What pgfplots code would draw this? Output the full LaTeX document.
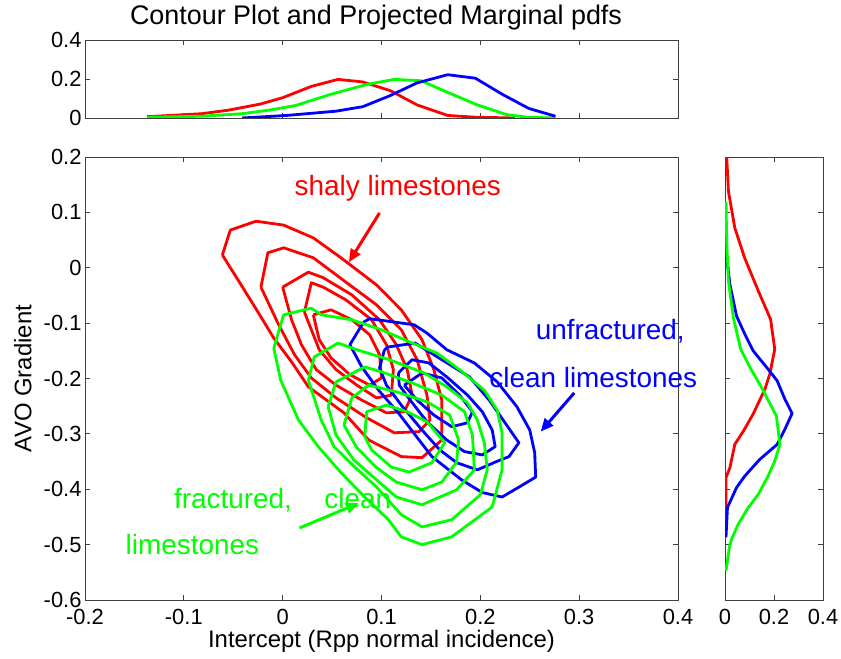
\documentclass[border=0pt]{standalone}
\usepackage{fontspec}
\setmainfont{Liberation Sans}
\usepackage{pgfplots}
\pgfplotsset{compat=1.18}
\usetikzlibrary{arrows.meta}
\definecolor{mred}{RGB}{255,0,0}
\definecolor{mblue}{RGB}{0,0,255}
\definecolor{mgreen}{RGB}{0,255,0}
\pgfplotsset{
  mystyle/.style={
    scale only axis,
    axis line style={black!75, line width=0.8bp},
    tick style={black!75, line width=0.8bp},
    tick align=inside,
    major tick length=5bp,
    ticklabel style={font=\fontsize{22}{22}\selectfont},
    xticklabel style={yshift=-6bp},
    label style={font=\fontsize{24}{24}\selectfont},
    every axis plot/.append style={line width=2.8bp, line join=round},
  }
}
\begin{document}
\begin{tikzpicture}
\path[use as bounding box] (0,0) rectangle (841bp,659bp);
% ---------------- main contour axis
\begin{axis}[mystyle, at={(85bp,59bp)}, anchor=south west,
  width=593bp, height=443bp,
  xmin=-0.2, xmax=0.4, ymin=-0.6, ymax=0.2,
  xtick={-0.2,-0.1,0,0.1,0.2,0.3,0.4},
  xticklabels={-0.2,-0.1,0,0.1,0.2,0.3,0.4},
  ytick={-0.6,-0.5,-0.4,-0.3,-0.2,-0.1,0,0.1,0.2},
  yticklabels={-0.6,-0.5,-0.4,-0.3,-0.2,-0.1,0,0.1,0.2},
  clip=false,
  xlabel={Intercept (Rpp normal incidence)},
  ylabel={AVO Gradient},
  xlabel style={at={(axis description cs:0.5,-0.093)}, anchor=center},
  ylabel style={at={(axis description cs:-0.105,0.5)}, anchor=center},
]
% red contours (shaly limestones)
\addplot[mred] coordinates {(-0.061,0.023)(-0.053,0.068)(-0.027,0.084)(0.001,0.077)(0.031,0.054)(0.059,0.018)(0.095,-0.031)(0.120,-0.076)(0.141,-0.130)(0.153,-0.184)(0.161,-0.239)(0.161,-0.311)(0.141,-0.343)(0.120,-0.341)(0.087,-0.311)(0.062,-0.262)(0.026,-0.215)(0.009,-0.170)(-0.009,-0.127)(-0.025,-0.080)(-0.042,-0.031)(-0.061,0.023)};
\addplot[mred] coordinates {(-0.022,-0.035)(-0.015,0.027)(0.001,0.036)(0.031,0.018)(0.064,-0.026)(0.095,-0.067)(0.120,-0.112)(0.136,-0.166)(0.146,-0.230)(0.149,-0.275)(0.138,-0.296)(0.113,-0.298)(0.085,-0.271)(0.054,-0.235)(0.029,-0.199)(0.012,-0.157)(-0.004,-0.103)(-0.022,-0.035)};
\addplot[mred] coordinates {(0.000,-0.035)(0.026,-0.008)(0.041,-0.018)(0.070,-0.049)(0.098,-0.094)(0.115,-0.139)(0.126,-0.184)(0.131,-0.230)(0.123,-0.260)(0.105,-0.262)(0.080,-0.239)(0.054,-0.212)(0.034,-0.184)(0.019,-0.139)(0.009,-0.094)(0.000,-0.035)};
\addplot[mred] coordinates {(0.022,-0.080)(0.029,-0.027)(0.041,-0.035)(0.064,-0.058)(0.090,-0.094)(0.105,-0.139)(0.112,-0.184)(0.110,-0.230)(0.095,-0.235)(0.075,-0.212)(0.054,-0.184)(0.037,-0.148)(0.022,-0.080)};
\addplot[mred] coordinates {(0.031,-0.085)(0.049,-0.076)(0.070,-0.094)(0.088,-0.121)(0.098,-0.157)(0.100,-0.199)(0.088,-0.212)(0.068,-0.193)(0.049,-0.163)(0.037,-0.130)(0.031,-0.085)};
% blue contours (unfractured, clean limestones)
\addplot[mblue] coordinates {(0.082,-0.098)(0.088,-0.092)(0.133,-0.103)(0.146,-0.118)(0.166,-0.148)(0.194,-0.172)(0.217,-0.206)(0.237,-0.251)(0.250,-0.293)(0.255,-0.334)(0.256,-0.378)(0.243,-0.392)(0.222,-0.414)(0.202,-0.406)(0.181,-0.383)(0.151,-0.341)(0.138,-0.311)(0.117,-0.262)(0.097,-0.221)(0.080,-0.179)(0.068,-0.139)(0.082,-0.098)};
\addplot[mblue] coordinates {(0.103,-0.148)(0.107,-0.143)(0.134,-0.136)(0.161,-0.166)(0.189,-0.197)(0.209,-0.239)(0.225,-0.280)(0.239,-0.316)(0.229,-0.341)(0.215,-0.351)(0.197,-0.365)(0.176,-0.352)(0.159,-0.329)(0.141,-0.293)(0.120,-0.248)(0.105,-0.212)(0.098,-0.181)(0.103,-0.148)};
\addplot[mblue] coordinates {(0.117,-0.190)(0.131,-0.166)(0.148,-0.172)(0.166,-0.197)(0.187,-0.230)(0.202,-0.260)(0.212,-0.293)(0.215,-0.323)(0.202,-0.338)(0.184,-0.332)(0.166,-0.311)(0.146,-0.278)(0.129,-0.239)(0.118,-0.212)(0.117,-0.190)};
\addplot[mblue] coordinates {(0.123,-0.212)(0.141,-0.190)(0.161,-0.199)(0.179,-0.230)(0.192,-0.260)(0.187,-0.280)(0.171,-0.287)(0.153,-0.266)(0.136,-0.239)(0.123,-0.212)};
% green contours (fractured, clean limestones)
\addplot[mgreen] coordinates {(-0.009,-0.145)(0.001,-0.085)(0.029,-0.073)(0.039,-0.085)(0.070,-0.094)(0.100,-0.112)(0.131,-0.136)(0.156,-0.154)(0.179,-0.184)(0.204,-0.221)(0.217,-0.257)(0.222,-0.298)(0.222,-0.365)(0.212,-0.432)(0.171,-0.486)(0.141,-0.500)(0.120,-0.486)(0.107,-0.455)(0.083,-0.414)(0.059,-0.370)(0.036,-0.323)(0.016,-0.275)(-0.002,-0.203)(-0.009,-0.145)};
\addplot[mgreen] coordinates {(0.026,-0.203)(0.032,-0.161)(0.056,-0.136)(0.075,-0.148)(0.108,-0.166)(0.143,-0.190)(0.166,-0.215)(0.187,-0.244)(0.197,-0.275)(0.204,-0.316)(0.207,-0.365)(0.200,-0.410)(0.171,-0.455)(0.141,-0.468)(0.120,-0.446)(0.095,-0.396)(0.073,-0.360)(0.052,-0.323)(0.039,-0.275)(0.026,-0.203)};
\addplot[mgreen] coordinates {(0.046,-0.251)(0.054,-0.206)(0.083,-0.179)(0.100,-0.188)(0.131,-0.208)(0.161,-0.230)(0.184,-0.260)(0.192,-0.302)(0.194,-0.365)(0.176,-0.401)(0.141,-0.428)(0.115,-0.414)(0.095,-0.383)(0.072,-0.347)(0.054,-0.302)(0.046,-0.251)};
\addplot[mgreen] coordinates {(0.062,-0.284)(0.070,-0.235)(0.087,-0.212)(0.115,-0.224)(0.146,-0.242)(0.169,-0.266)(0.178,-0.311)(0.176,-0.351)(0.161,-0.387)(0.141,-0.401)(0.115,-0.387)(0.095,-0.361)(0.075,-0.325)(0.062,-0.284)};
\addplot[mgreen] coordinates {(0.083,-0.305)(0.085,-0.260)(0.105,-0.248)(0.126,-0.260)(0.146,-0.278)(0.164,-0.316)(0.151,-0.352)(0.128,-0.369)(0.110,-0.360)(0.090,-0.329)(0.083,-0.305)};
% annotations
\draw[mred, line width=3bp, -{Triangle[length=13bp,width=11bp]}] (axis cs:0.098,0.099) -- (axis cs:0.067,0.010);
\draw[mblue, line width=3bp, -{Triangle[length=13bp,width=11bp]}] (axis cs:0.295,-0.226) -- (axis cs:0.261,-0.296);
\draw[mgreen, line width=3bp, -{Triangle[length=13bp,width=11bp]}] (axis cs:0.017,-0.470) -- (axis cs:0.077,-0.425);
\node[mred, anchor=base west, inner sep=0, font=\fontsize{28}{28}\selectfont] at (axis cs:0.012,0.131) {shaly limestones};
\node[mblue, anchor=base west, inner sep=0, font=\fontsize{28}{28}\selectfont] at (axis cs:0.256,-0.130) {unfractured,};
\node[mblue, anchor=base west, inner sep=0, font=\fontsize{28}{28}\selectfont] at (axis cs:0.209,-0.217) {clean limestones};
\node[mgreen, anchor=base west, inner sep=0, font=\fontsize{28}{28}\selectfont] at (axis cs:-0.110,-0.434) {fractured,};
\node[mgreen, anchor=base west, inner sep=0, font=\fontsize{28}{28}\selectfont] at (axis cs:0.042,-0.434) {clean};
\node[mgreen, anchor=base west, inner sep=0, font=\fontsize{28}{28}\selectfont] at (axis cs:-0.159,-0.518) {limestones};
\end{axis}
% ---------------- top marginal axis
\begin{axis}[mystyle, at={(85bp,541bp)}, anchor=south west,
  width=593bp, height=78bp,
  xmin=-0.2, xmax=0.4, ymin=0, ymax=0.4,
  xtick={-0.2,-0.1,0,0.1,0.2,0.3,0.4}, xticklabels={},
  ytick={0,0.2,0.4}, yticklabels={0,0.2,0.4},
]
\addplot[mred] coordinates {(-0.137,0.007)(-0.114,0.013)(-0.082,0.022)(-0.055,0.040)(-0.023,0.071)(0.000,0.104)(0.029,0.162)(0.056,0.198)(0.081,0.185)(0.109,0.140)(0.136,0.067)(0.167,0.013)(0.195,0.004)(0.235,0.000)};
\addplot[mgreen] coordinates {(-0.137,0.004)(-0.082,0.009)(-0.041,0.022)(-0.014,0.040)(0.013,0.064)(0.049,0.122)(0.086,0.173)(0.113,0.198)(0.140,0.191)(0.163,0.140)(0.197,0.067)(0.226,0.018)(0.247,0.004)(0.276,0.000)};
\addplot[mblue] coordinates {(-0.041,0.000)(0.004,0.013)(0.054,0.035)(0.081,0.058)(0.108,0.113)(0.136,0.180)(0.167,0.222)(0.195,0.204)(0.222,0.122)(0.249,0.049)(0.276,0.009)};
\end{axis}
% ---------------- right marginal axis
\begin{axis}[mystyle, at={(725bp,59bp)}, anchor=south west,
  width=98bp, height=443bp,
  xmin=0, xmax=0.4, ymin=-0.6, ymax=0.2,
  xtick={0,0.2,0.4}, xticklabels={0,0.2,0.4},
  ytick={-0.6,-0.5,-0.4,-0.3,-0.2,-0.1,0,0.1,0.2}, yticklabels={},
]
\addplot[mred] coordinates {(0.007,0.200)(0.014,0.138)(0.040,0.072)(0.080,0.018)(0.136,-0.042)(0.186,-0.093)(0.203,-0.147)(0.183,-0.192)(0.163,-0.219)(0.115,-0.264)(0.075,-0.295)(0.040,-0.319)(0.020,-0.361)(0.004,-0.379)(0.004,-0.433)};
\addplot[mblue] coordinates {(0.007,0.018)(0.020,-0.030)(0.047,-0.087)(0.081,-0.120)(0.115,-0.150)(0.170,-0.180)(0.213,-0.204)(0.244,-0.237)(0.274,-0.263)(0.244,-0.292)(0.213,-0.319)(0.142,-0.346)(0.081,-0.376)(0.047,-0.397)(0.010,-0.433)(0.004,-0.487)};
\addplot[mgreen] coordinates {(0.004,0.120)(0.007,0.048)(0.014,-0.024)(0.034,-0.090)(0.064,-0.147)(0.102,-0.180)(0.149,-0.216)(0.210,-0.268)(0.224,-0.319)(0.203,-0.349)(0.176,-0.376)(0.136,-0.409)(0.095,-0.433)(0.054,-0.463)(0.027,-0.490)(0.018,-0.505)(0.004,-0.547)};
\end{axis}
\node[anchor=base, font=\fontsize{27}{27}\selectfont] at (376bp,634bp) {Contour Plot and Projected Marginal pdfs};
\end{tikzpicture}
\end{document}
